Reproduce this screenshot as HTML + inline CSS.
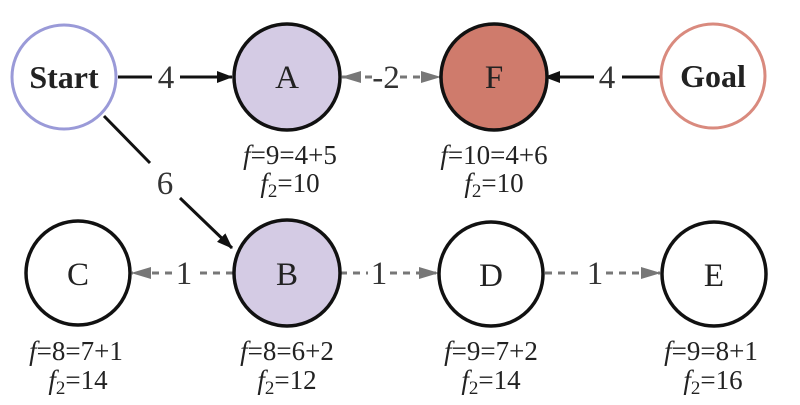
<!DOCTYPE html>
<html><head><meta charset="utf-8"><style>
html,body{margin:0;padding:0;background:#fff;}
svg{display:block;font-family:"Liberation Serif",serif;}
</style></head><body>
<svg width="800" height="405" viewBox="0 0 800 405" xmlns="http://www.w3.org/2000/svg">
<defs>
<marker id="ab" markerWidth="16" markerHeight="12" refX="15" refY="6" orient="auto" markerUnits="userSpaceOnUse"><path d="M0,0 L16,6 L0,12 z" fill="#111"/></marker>
<marker id="ag" markerWidth="20" markerHeight="14" refX="19" refY="7" orient="auto" markerUnits="userSpaceOnUse"><path d="M0,1 L20,7 L0,13 z" fill="#777"/></marker>
</defs>
<g stroke="#111" stroke-width="3" fill="none">
<line x1="118" y1="77" x2="152" y2="77"/>
<line x1="180" y1="77" x2="232" y2="77" marker-end="url(#ab)"/>
<line x1="104" y1="116" x2="150" y2="163"/>
<line x1="180" y1="198" x2="232" y2="248" marker-end="url(#ab)"/>
<line x1="660" y1="77" x2="622" y2="77"/>
<line x1="594" y1="77" x2="545" y2="77" marker-end="url(#ab)"/>
</g>
<g stroke="#777" stroke-width="3" fill="none" stroke-dasharray="7,6">
<line x1="372" y1="77" x2="342" y2="77" marker-end="url(#ag)"/>
<line x1="400" y1="77" x2="440" y2="77" marker-end="url(#ag)"/>
<line x1="233" y1="273" x2="197" y2="273"/>
<line x1="172" y1="273" x2="132" y2="273" marker-end="url(#ag)"/>
<line x1="340" y1="273" x2="368" y2="273"/>
<line x1="390" y1="273" x2="438" y2="273" marker-end="url(#ag)"/>
<line x1="545" y1="273" x2="583" y2="273"/>
<line x1="606" y1="273" x2="660" y2="273" marker-end="url(#ag)"/>
</g>
<g font-size="33" fill="#333" text-anchor="middle">
<text x="166" y="88">4</text>
<text x="165" y="194">6</text>
<text x="607" y="88">4</text>
<text x="386" y="88">-2</text>
<text x="184" y="284">1</text>
<text x="379" y="284">1</text>
<text x="595" y="284">1</text>
</g>
<circle cx="64" cy="77" r="52" fill="#fff" stroke="#9a9ad8" stroke-width="3"/>
<circle cx="287" cy="77" r="53" fill="#d4cbe4" stroke="#111" stroke-width="3.5"/>
<circle cx="494" cy="77" r="53" fill="#cf7b6c" stroke="#111" stroke-width="3.5"/>
<circle cx="713" cy="76" r="52" fill="#fff" stroke="#d98a7e" stroke-width="3"/>
<circle cx="78" cy="273" r="52" fill="#fff" stroke="#111" stroke-width="3.5"/>
<circle cx="287" cy="273" r="53" fill="#d4cbe4" stroke="#111" stroke-width="3.5"/>
<circle cx="491" cy="274" r="52" fill="#fff" stroke="#111" stroke-width="3.5"/>
<circle cx="714" cy="274" r="52" fill="#fff" stroke="#111" stroke-width="3.5"/>
<g font-size="33" fill="#222" text-anchor="middle">
<text x="64" y="88" font-weight="bold" font-size="32">Start</text>
<text x="713" y="87" font-weight="bold" font-size="32">Goal</text>
<text x="287" y="88">A</text>
<text x="494" y="88">F</text>
<text x="78" y="285">C</text>
<text x="287" y="285">B</text>
<text x="491" y="286">D</text>
<text x="714" y="286">E</text>
</g>
<g font-size="27" fill="#222" text-anchor="middle">
<text x="290" y="164"><tspan font-style="italic">f</tspan>=9=4+5</text>
<text x="290" y="192"><tspan font-style="italic">f</tspan><tspan font-size="19" dy="5">2</tspan><tspan dy="-5">=10</tspan></text>
<text x="494" y="164"><tspan font-style="italic">f</tspan>=10=4+6</text>
<text x="494" y="192"><tspan font-style="italic">f</tspan><tspan font-size="19" dy="5">2</tspan><tspan dy="-5">=10</tspan></text>
<text x="76" y="360"><tspan font-style="italic">f</tspan>=8=7+1</text>
<text x="78" y="389"><tspan font-style="italic">f</tspan><tspan font-size="19" dy="5">2</tspan><tspan dy="-5">=14</tspan></text>
<text x="287" y="360"><tspan font-style="italic">f</tspan>=8=6+2</text>
<text x="287" y="389"><tspan font-style="italic">f</tspan><tspan font-size="19" dy="5">2</tspan><tspan dy="-5">=12</tspan></text>
<text x="491" y="360"><tspan font-style="italic">f</tspan>=9=7+2</text>
<text x="491" y="389"><tspan font-style="italic">f</tspan><tspan font-size="19" dy="5">2</tspan><tspan dy="-5">=14</tspan></text>
<text x="711" y="360"><tspan font-style="italic">f</tspan>=9=8+1</text>
<text x="713" y="389"><tspan font-style="italic">f</tspan><tspan font-size="19" dy="5">2</tspan><tspan dy="-5">=16</tspan></text>
</g>
</svg>
</body></html>
